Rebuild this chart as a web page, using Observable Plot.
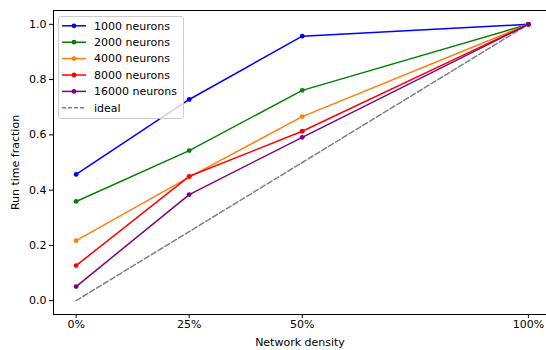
<!DOCTYPE html>
<html>
<head>
<meta charset="utf-8">
<script src="https://cdn.jsdelivr.net/npm/d3@7"></script>
<script src="https://cdn.jsdelivr.net/npm/@observablehq/plot@0.6"></script>
<style>
html,body{margin:0;padding:0;background:#fff;}
#chart{width:546px;height:350px;}
</style>
</head>
<body>
<div id="chart"></div>
<script>
const densities = [0, 25, 50, 100];
const xTickLabels = ["0%", "25%", "50%", "100%"];
const yTicks = [0, 0.2, 0.4, 0.6, 0.8, 1.0];
const seriesNames = ["1000 neurons", "2000 neurons", "4000 neurons", "8000 neurons", "16000 neurons"];
const seriesColors = ["#0000ff", "#008000", "#ff7f0e", "#ff0000", "#800080"];
const n1000 = [0.457, 0.728, 0.957, 1.0];
const n2000 = [0.359, 0.543, 0.761, 1.0];
const n4000 = [0.217, 0.447, 0.666, 1.0];
const n8000 = [0.127, 0.450, 0.613, 1.0];
const n16000 = [0.051, 0.384, 0.591, 1.0];
const ideal = [0, 0.25, 0.5, 1.0];
const idealName = "ideal";
const idealColor = "#808080";

const allSeries = [n1000, n2000, n4000, n8000, n16000];
const rows = [];
allSeries.forEach((vals, i) => vals.forEach((v, j) => rows.push({name: seriesNames[i], x: densities[j], y: v})));
const idealRows = ideal.map((v, j) => ({x: densities[j], y: v}));

const font = "DejaVu Sans, sans-serif";
const fs = 11;
const xMin = -5, xMax = 104, yMin = -0.05, yMax = 1.05;

const plot = Plot.plot({
  width: 546,
  height: 350,
  marginTop: 10,
  marginLeft: 53,
  marginRight: 0,
  marginBottom: 36,
  style: {fontFamily: font, fontSize: fs + "px", color: "#000", background: "#fff"},
  x: {domain: [xMin, xMax]},
  y: {domain: [yMin, yMax]},
  color: {domain: seriesNames, range: seriesColors},
  marks: [
    Plot.axisX({ticks: densities, tickFormat: (d, i) => xTickLabels[i], tickSize: 4, tickPadding: 2,
      label: "Network density", labelAnchor: "center", labelArrow: "none", labelOffset: 31, fontSize: fs}),
    Plot.axisY({ticks: yTicks, tickFormat: d => d.toFixed(1), tickSize: 4, tickPadding: 3,
      label: "Run time fraction", labelAnchor: "center", labelArrow: "none", labelOffset: 42, fontSize: fs}),
    Plot.line(idealRows, {x: "x", y: "y", stroke: idealColor, strokeWidth: 1.5, strokeDasharray: "5.5,2.5"}),
    Plot.line(rows, {x: "x", y: "y", z: "name", stroke: "name", strokeWidth: 1.5}),
    Plot.dot(rows, {x: "x", y: "y", fill: "name", r: 2.4}),
    Plot.ruleX([xMin], {stroke: "#000", strokeWidth: 1}),
    Plot.ruleY([yMin, yMax], {stroke: "#000", strokeWidth: 1})
  ]
});

document.getElementById("chart").appendChild(plot);

// legend
const svg = d3.select(plot);
const legendItems = seriesNames.map((n, i) => ({name: n, color: seriesColors[i], dash: null, dot: true}))
  .concat([{name: idealName, color: idealColor, dash: "4,2", dot: false}]);
const lg = svg.append("g").attr("transform", "translate(58,16)");
lg.append("rect").attr("x", 0.5).attr("y", 0.5).attr("width", 125).attr("height", 102)
  .attr("rx", 2.5).attr("fill", "#fff").attr("fill-opacity", 0.8).attr("stroke", "#cccccc");
legendItems.forEach((d, i) => {
  const yy = 9.8 + i * 16.4;
  lg.append("line").attr("x1", 4).attr("x2", 28).attr("y1", yy).attr("y2", yy)
    .attr("stroke", d.color).attr("stroke-width", 1.5).attr("stroke-dasharray", d.dash);
  if (d.dot) lg.append("circle").attr("cx", 16).attr("cy", yy).attr("r", 2.4).attr("fill", d.color);
  lg.append("text").attr("x", 36).attr("y", yy).attr("dy", "0.35em").attr("text-anchor", "start")
    .attr("font-family", font).attr("font-size", fs + "px").attr("fill", "#000").text(d.name);
});
</script>
</body>
</html>
